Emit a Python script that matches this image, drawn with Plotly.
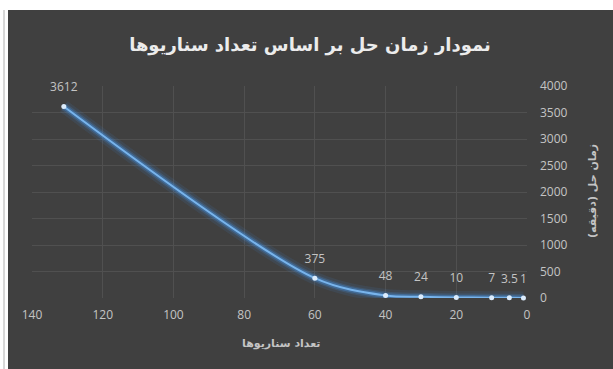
import plotly.graph_objects as go

# Data
scenarios = [131, 60, 40, 30, 20, 10, 5, 1]
solve_time = [3612, 375, 48, 24, 10, 7, 3.5, 1]
labels = ["3612", "375", "48", "24", "10", "7", "3.5", "1"]
x_ticks = [0, 20, 40, 60, 80, 100, 120, 140]
y_ticks = [0, 500, 1000, 1500, 2000, 2500, 3000, 3500, 4000]

title_text = "نمودار زمان حل بر اساس تعداد سناریوها"
x_title = "تعداد سناریوها"
y_title = "زمان حل (دقیقه)"

W, H = 613, 369
ML, MR, MT, MB = 32, 86, 86, 71
PW = W - ML - MR
PH = H - MT - MB

def px_x(p):
    return (p - ML) / PW

def px_y(p):
    return (H - MB - p) / PH

BG = "#404040"
GRID = "#505050"
TXT = "#c4c4c4"
persian_font = "DejaVu Sans"

fig = go.Figure()

# glow layers
for w, a in [(13, 0.10), (8, 0.18), (5, 0.35)]:
    fig.add_trace(go.Scatter(
        x=scenarios, y=solve_time, mode="lines",
        line=dict(color=f"rgba(70,150,235,{a})", width=w, shape="spline", smoothing=0.9),
        hoverinfo="skip", showlegend=False, cliponaxis=False))

fig.add_trace(go.Scatter(
    x=scenarios, y=solve_time, mode="lines+markers",
    line=dict(color="#78b4ec", width=2, shape="spline", smoothing=0.9),
    marker=dict(size=5, color="#dcecfc", line=dict(width=0)),
    showlegend=False, cliponaxis=False))

# data labels
fig.add_trace(go.Scatter(
    x=scenarios, y=solve_time, mode="text+markers",
    marker=dict(size=18, color="rgba(0,0,0,0)"),
    text=labels, textposition="top center",
    textfont=dict(family="Open Sans", size=12, color=TXT),
    hoverinfo="skip", showlegend=False, cliponaxis=False))

fig.update_layout(
    width=W, height=H,
    margin=dict(l=ML, r=MR, t=MT, b=MB),
    paper_bgcolor="white",
    plot_bgcolor="rgba(0,0,0,0)",
    showlegend=False,
    title=dict(text="<b>" + title_text + "</b>", x=(310) / W, xanchor="center",
               y=1 - 45 / H, yanchor="middle",
               font=dict(family=persian_font, size=18, color="#ececec")),
    xaxis=dict(range=[140, 0], tickvals=x_ticks, showgrid=True, gridcolor=GRID,
               gridwidth=1, zeroline=False, showline=False, ticks="",
               ticklabelstandoff=8,
               tickfont=dict(family="Open Sans", size=12, color=TXT)),
    yaxis=dict(range=[0, 4000], tickvals=y_ticks, side="right", showgrid=True,
               gridcolor=GRID, gridwidth=1, zeroline=False, showline=False,
               ticks="", ticklabelstandoff=12,
               tickfont=dict(family="Open Sans", size=12, color=TXT)),
    shapes=[
        dict(type="rect", xref="paper", yref="paper", layer="below",
             x0=px_x(8), x1=px_x(W + 2), y0=px_y(10), y1=px_y(H + 2),
             fillcolor=BG, line=dict(width=0)),
        dict(type="line", xref="paper", yref="paper", layer="below",
             x0=px_x(4), x1=px_x(4), y0=px_y(10), y1=px_y(H + 2),
             line=dict(color="#b0b0b0", width=1)),
    ],
    annotations=[
        dict(text="<b>" + x_title + "</b>", xref="paper", yref="paper", x=px_x(281), y=px_y(343),
             showarrow=False, xanchor="center", yanchor="middle",
             font=dict(family=persian_font, size=11, color=TXT)),
        dict(text="<b>" + y_title + "</b>", xref="paper", yref="paper", x=px_x(592), y=px_y(191),
             showarrow=False, xanchor="center", yanchor="middle", textangle=-90,
             font=dict(family=persian_font, size=11, color=TXT)),
    ],
)

fig.write_html("out.html")
